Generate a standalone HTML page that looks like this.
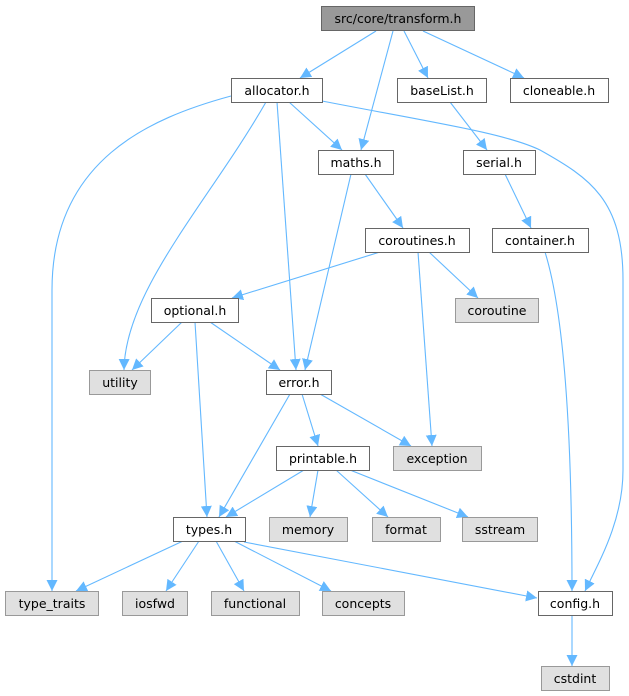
<!DOCTYPE html>
<html><head><meta charset="utf-8"><style>
html,body{margin:0;padding:0;background:#fff;}
svg{display:block;}
text{font-family:"DejaVu Sans","Liberation Sans",sans-serif;font-size:12.5px;fill:#000;}
</style></head><body>
<svg width="629" height="696" viewBox="0 0 629 696" xmlns="http://www.w3.org/2000/svg">
<defs>
<marker id="a" markerUnits="userSpaceOnUse" markerWidth="12" markerHeight="11" refX="11" refY="5.5" orient="auto">
<path d="M0,0 L11,5.5 L0,11 z" fill="#63b8ff"/>
</marker>
</defs>
<g fill="none" stroke="#63b8ff" stroke-width="1.1" marker-end="url(#a)">
<path d="M376,31 L300,78"/>
<path d="M393,31 L361,150"/>
<path d="M404,31 L428,78"/>
<path d="M423,31 L524,78"/>
<path d="M231,96 C150,118 52,160 52,290 L52,591"/>
<path d="M266,102 C210,200 125,290 124,370"/>
<path d="M277,102 L296,370"/>
<path d="M289,102 L342,150"/>
<path d="M322,101 C430,122 505,133 540,150 C590,178 623,200 623,280 L623,470 C623,520 600,560 585,591"/>
<path d="M450,102 L487,150"/>
<path d="M505,174 L531,228"/>
<path d="M365,174 L403,228"/>
<path d="M351,174 L305,370"/>
<path d="M380,252 L232,298"/>
<path d="M429,252 L478,298"/>
<path d="M418,252 L432,446"/>
<path d="M545,252 C560,300 572,400 572,591"/>
<path d="M182,322 L132,370"/>
<path d="M195,322 L207,517"/>
<path d="M210,322 L280,370"/>
<path d="M290,394 L219,517"/>
<path d="M302,394 L318,446"/>
<path d="M320,394 L411,446"/>
<path d="M304,470 L226,517"/>
<path d="M318,470 L310,517"/>
<path d="M336,470 L388,517"/>
<path d="M350,470 L468,517"/>
<path d="M183,541 L76,591"/>
<path d="M199,541 L166,591"/>
<path d="M216,541 L244,591"/>
<path d="M234,541 L331,591"/>
<path d="M244,542 L537,598"/>
<path d="M572,615 L572,666"/>
</g>
<g stroke-width="1">
<rect x="321.5" y="6.5" width="153" height="24" fill="#999" stroke="#666"/>
<rect x="231.5" y="78.5" width="91" height="24" fill="#fff" stroke="#666"/>
<rect x="397.5" y="78.5" width="89" height="24" fill="#fff" stroke="#666"/>
<rect x="510.5" y="78.5" width="98" height="24" fill="#fff" stroke="#666"/>
<rect x="318.5" y="150.5" width="75" height="24" fill="#fff" stroke="#666"/>
<rect x="463.5" y="150.5" width="72" height="24" fill="#fff" stroke="#666"/>
<rect x="365.5" y="228.5" width="104" height="24" fill="#fff" stroke="#666"/>
<rect x="492.5" y="228.5" width="96" height="24" fill="#fff" stroke="#666"/>
<rect x="151.5" y="298.5" width="87" height="24" fill="#fff" stroke="#666"/>
<rect x="455.5" y="298.5" width="83" height="24" fill="#e0e0e0" stroke="#999"/>
<rect x="89.5" y="370.5" width="61" height="24" fill="#e0e0e0" stroke="#999"/>
<rect x="266.5" y="370.5" width="65" height="24" fill="#fff" stroke="#666"/>
<rect x="276.5" y="446.5" width="93" height="24" fill="#fff" stroke="#666"/>
<rect x="393.5" y="446.5" width="88" height="24" fill="#e0e0e0" stroke="#999"/>
<rect x="173.5" y="517.5" width="72" height="24" fill="#fff" stroke="#666"/>
<rect x="269.5" y="517.5" width="78" height="24" fill="#e0e0e0" stroke="#999"/>
<rect x="372.5" y="517.5" width="68" height="24" fill="#e0e0e0" stroke="#999"/>
<rect x="462.5" y="517.5" width="75" height="24" fill="#e0e0e0" stroke="#999"/>
<rect x="5.5" y="591.5" width="93" height="24" fill="#e0e0e0" stroke="#999"/>
<rect x="122.5" y="591.5" width="65" height="24" fill="#e0e0e0" stroke="#999"/>
<rect x="211.5" y="591.5" width="88" height="24" fill="#e0e0e0" stroke="#999"/>
<rect x="322.5" y="591.5" width="82" height="24" fill="#e0e0e0" stroke="#999"/>
<rect x="538.5" y="591.5" width="74" height="24" fill="#fff" stroke="#666"/>
<rect x="541.5" y="666.5" width="68" height="24" fill="#e0e0e0" stroke="#999"/>
</g>
<g text-anchor="middle">
<text x="398" y="23">src/core/transform.h</text>
<text x="277" y="95">allocator.h</text>
<text x="442" y="95">baseList.h</text>
<text x="559" y="95">cloneable.h</text>
<text x="356" y="167">maths.h</text>
<text x="499" y="167">serial.h</text>
<text x="417" y="245">coroutines.h</text>
<text x="540" y="245">container.h</text>
<text x="195" y="315">optional.h</text>
<text x="497" y="315">coroutine</text>
<text x="120" y="387">utility</text>
<text x="299" y="387">error.h</text>
<text x="323" y="463">printable.h</text>
<text x="437" y="463">exception</text>
<text x="209" y="534">types.h</text>
<text x="308" y="534">memory</text>
<text x="406" y="534">format</text>
<text x="500" y="534">sstream</text>
<text x="52" y="608">type_traits</text>
<text x="155" y="608">iosfwd</text>
<text x="255" y="608">functional</text>
<text x="363" y="608">concepts</text>
<text x="575" y="608">config.h</text>
<text x="575" y="683">cstdint</text>
</g>
</svg>
</body></html>
